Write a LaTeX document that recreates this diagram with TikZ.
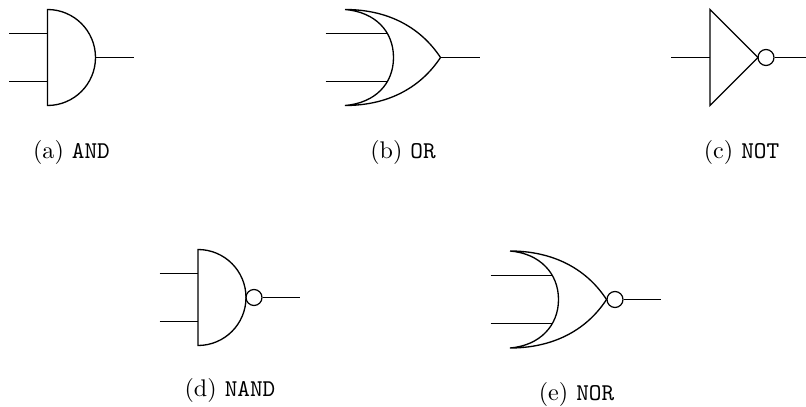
\documentclass[tikz,border=0pt]{standalone}
\tikzset{
  wire/.style={line width=0.6pt},
  gate/.style={line width=0.6pt},
  bubble/.style={circle,draw,line width=0.55pt,inner sep=0pt,minimum size=7.27pt},
  captiontext/.style={inner sep=0pt,anchor=base,font=\fontsize{10.95}{13}\selectfont},
}
\begin{document}
\begin{tikzpicture}[x=0.4545pt,y=-0.4545pt]
\useasboundingbox (0,0) rectangle (806,407);
% AND
\coordinate (a1) at (9,33.5); \coordinate (a2) at (9,81.5);
\coordinate (a1g) at (47.5,33.5); \coordinate (a2g) at (47.5,81.5);
\coordinate (aout) at (95.5,57.5); \coordinate (aend) at (134,57.5);
\draw[gate] (47.5,9.5) -- (47.5,105.5) .. controls (74,105.5) and (95.5,84) .. (aout) .. controls (95.5,31) and (74,9.5) .. (47.5,9.5) -- cycle;
\draw[wire] (a1) -- (a1g); \draw[wire] (a2) -- (a2g); \draw[wire] (aout) -- (aend);
\node[captiontext] (capa) at (71.5,158.5) {(a) \texttt{AND}};
% OR
\coordinate (b1) at (325.5,33.5); \coordinate (b2) at (325.5,81.5);
\coordinate (b1g) at (387,33.5); \coordinate (b2g) at (387,81.5);
\coordinate (bout) at (440.5,57.5); \coordinate (bend) at (479.5,57.5);
\draw[gate] (345,9.5) .. controls (385,9.5) and (419,25) .. (bout) .. controls (419,90) and (385,105.5) .. (345,105.5)
  .. controls (375,103) and (393.5,84) .. (393.5,57.5) .. controls (393.5,31) and (375,12) .. (345,9.5);
\draw[wire] (b1) -- (b1g); \draw[wire] (b2) -- (b2g); \draw[wire] (bout) -- (bend);
\node[captiontext] (capb) at (403,158.5) {(b) \texttt{OR}};
% NOT
\coordinate (c1) at (671,57.5); \coordinate (c1g) at (710,57.5);
\coordinate (cend) at (805.5,57.5);
\draw[gate] (710,9.5) -- (710,105.5) -- (758,57.5) -- cycle;
\node[bubble] (cb) at (766,57.5) {};
\draw[wire] (c1) -- (c1g); \draw[wire] (cb.east) -- (cend);
\node[captiontext] (capc) at (741.5,158.5) {(c) \texttt{NOT}};
% NAND
\coordinate (d1) at (159.5,273.5); \coordinate (d2) at (159.5,321.5);
\coordinate (d1g) at (198,273.5); \coordinate (d2g) at (198,321.5);
\coordinate (dend) at (300,297.5);
\draw[gate] (198,249.5) -- (198,345.5) .. controls (224.5,345.5) and (246,324) .. (246,297.5) .. controls (246,271) and (224.5,249.5) .. (198,249.5) -- cycle;
\node[bubble] (db) at (254,297.5) {};
\draw[wire] (d1) -- (d1g); \draw[wire] (d2) -- (d2g); \draw[wire] (db.east) -- (dend);
\node[captiontext] (capd) at (230,396.5) {(d) \texttt{NAND}};
% NOR
\coordinate (e1) at (490.5,275.5); \coordinate (e2) at (490.5,323.5);
\coordinate (e1g) at (552,275.5); \coordinate (e2g) at (552,323.5);
\coordinate (eend) at (660.5,299.5);
\draw[gate] (510,251) .. controls (550,251) and (585,266.5) .. (606.5,299.5) .. controls (585,332.5) and (550,348) .. (510,348)
  .. controls (540,345.5) and (558.5,325.5) .. (558.5,299.5) .. controls (558.5,273.5) and (540,253.5) .. (510,251);
\node[bubble] (eb) at (615,299.5) {};
\draw[wire] (e1) -- (e1g); \draw[wire] (e2) -- (e2g); \draw[wire] (eb.east) -- (eend);
\node[captiontext] (cape) at (576.5,400.5) {(e) \texttt{NOR}};
\end{tikzpicture}
\end{document}
